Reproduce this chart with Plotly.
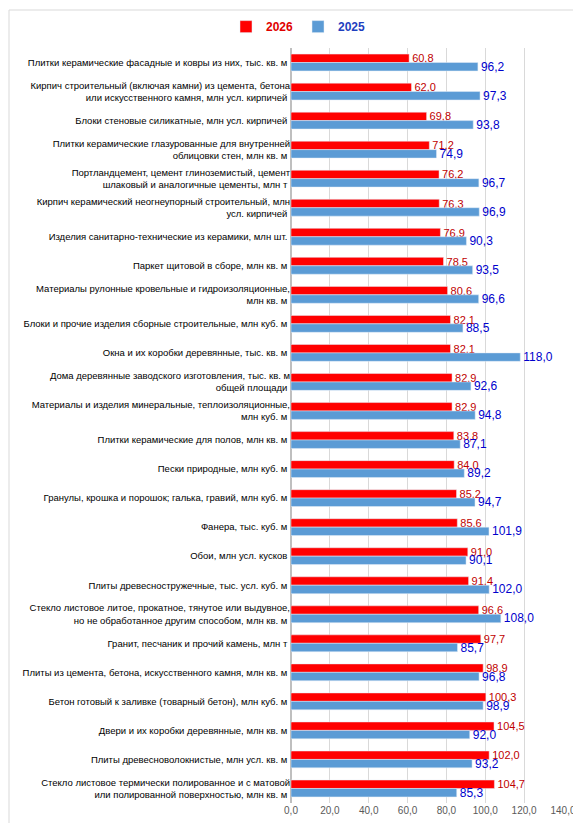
import plotly.graph_objects as go

categories = [
    "Плитки керамические фасадные и ковры из них, тыс. кв. м",
    "Кирпич строительный (включая камни) из цемента, бетона<br>или искусственного камня, млн усл. кирпичей",
    "Блоки стеновые силикатные, млн усл. кирпичей",
    "Плитки керамические глазурованные для внутренней<br>облицовки стен, млн кв. м",
    "Портландцемент, цемент глиноземистый, цемент<br>шлаковый и аналогичные цементы, млн т",
    "Кирпич керамический неогнеупорный строительный, млн<br>усл. кирпичей",
    "Изделия санитарно-технические из керамики, млн шт.",
    "Паркет щитовой в сборе, млн кв. м",
    "Материалы рулонные кровельные и гидроизоляционные,<br>млн кв. м",
    "Блоки и прочие изделия сборные строительные, млн куб. м",
    "Окна и их коробки деревянные, тыс. кв. м",
    "Дома деревянные заводского изготовления, тыс. кв. м<br>общей площади",
    "Материалы и изделия минеральные, теплоизоляционные,<br>млн куб. м",
    "Плитки керамические для полов, млн кв. м",
    "Пески природные, млн куб. м",
    "Гранулы, крошка и порошок; галька, гравий, млн куб. м",
    "Фанера, тыс. куб. м",
    "Обои, млн усл. кусков",
    "Плиты древесностружечные, тыс. усл. куб. м",
    "Стекло листовое литое, прокатное, тянутое или выдувное,<br>но не обработанное другим способом, млн кв. м",
    "Гранит, песчаник и прочий камень, млн т",
    "Плиты из цемента, бетона, искусственного камня, млн кв. м",
    "Бетон готовый к заливке (товарный бетон), млн куб. м",
    "Двери и их коробки деревянные, млн кв. м",
    "Плиты древесноволокнистые, млн усл. кв. м",
    "Стекло листовое термически полированное и с матовой<br>или полированной поверхностью, млн кв. м",
]
v2026 = [60.8, 62.0, 69.8, 71.2, 76.2, 76.3, 76.9, 78.5, 80.6, 82.1, 82.1, 82.9, 82.9,
         83.8, 84.0, 85.2, 85.6, 91.0, 91.4, 96.6, 97.7, 98.9, 100.3, 104.5, 102.0, 104.7]
v2025 = [96.2, 97.3, 93.8, 74.9, 96.7, 96.9, 90.3, 93.5, 96.6, 88.5, 118.0, 92.6, 94.8,
         87.1, 89.2, 94.7, 101.9, 90.1, 102.0, 108.0, 85.7, 96.8, 98.9, 92.0, 93.2, 85.3]
ticks = [0, 20, 40, 60, 80, 100, 120, 140]

def fmt(v):
    return f"{v:.1f}".replace(".", ",")

fig = go.Figure()
fig.add_trace(go.Bar(y=categories, x=v2026, orientation="h",
                     name="<b><span style='color:#E00000'>2026</span></b>",
                     marker_color="#FF0000", text=[fmt(v) for v in v2026],
                     textposition="outside", cliponaxis=False,
                     textfont=dict(color="#C00000", size=11)))
fig.add_trace(go.Bar(y=categories, x=v2025, orientation="h",
                     name="<b><span style='color:#1F3FBF'>2025</span></b>",
                     marker_color="#5B9BD5", text=[fmt(v) for v in v2025],
                     textposition="outside", cliponaxis=False,
                     textfont=dict(color="#0000CC", size=12)))
fig.update_layout(
    width=581, height=823, barmode="group", bargap=0.42, bargroupgap=0,
    plot_bgcolor="white", paper_bgcolor="white",
    font=dict(family="Liberation Sans, Arial", size=9.5, color="#000"),
    margin=dict(l=283, r=26, t=40, b=28, autoexpand=False),
    legend=dict(orientation="h", x=0.5, xanchor="center", xref="container",
                y=0.995, yanchor="top", yref="container",
                font=dict(size=12, color="#000"), itemwidth=30),
    uniformtext=dict(minsize=8, mode="show"),
)
fig.update_xaxes(range=[0, 140], tickvals=ticks, ticktext=[fmt(t) for t in ticks],
                 showgrid=True, gridcolor="#D9D9D9", zeroline=True, zerolinecolor="#BFBFBF",
                 tickfont=dict(color="#595959", size=10), automargin=False)
fig.update_yaxes(autorange="reversed", ticks="", ticksuffix=" ", automargin=False)
fig.add_shape(type="rect", xref="paper", yref="paper", x0=-282/272, x1=1+24/272,
              y0=-26/755, y1=1+38/755, line=dict(color="#D9D9D9", width=1))
fig.write_html("out.html")
